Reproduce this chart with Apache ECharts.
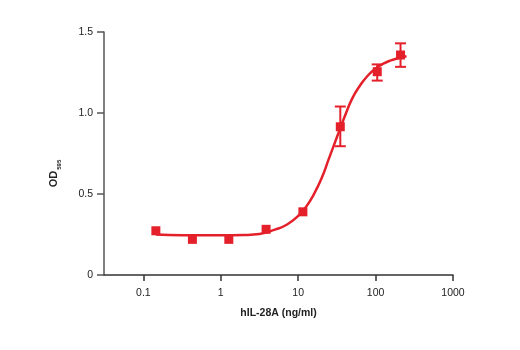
<!DOCTYPE html>
<html>
<head>
<meta charset="utf-8">
<script src="https://cdn.jsdelivr.net/npm/echarts@6/dist/echarts.min.js"></script>
<style>html,body{margin:0;padding:0;background:#fff;}#c{width:520px;height:350px;}</style>
</head>
<body>
<div id="c"></div>
<script>
// Measured points
const conc = [0.145, 0.43, 1.27, 3.85, 11.5, 35, 105, 210];
const od = [0.273, 0.22, 0.22, 0.282, 0.39, 0.915, 1.255, 1.358];
const errLow = [null, null, null, null, null, 0.795, 1.20, 1.285];
const errHigh = [null, null, null, null, null, 1.04, 1.30, 1.43];
// Fitted curve
const curveX = [0.145, 0.316, 1, 2, 3.16, 5, 7.1, 10, 12.6, 15.8, 20, 25, 31.6, 40, 50, 63, 79, 100, 126, 158, 200, 251];
const curveY = [0.25, 0.246, 0.245, 0.247, 0.253, 0.28, 0.31, 0.365, 0.42, 0.495, 0.595, 0.72, 0.85, 0.98, 1.09, 1.17, 1.23, 1.275, 1.305, 1.325, 1.34, 1.35];
const xTicks = [0.1, 1, 10, 100, 1000];
const yTicks = [0, 0.5, 1.0, 1.5];

const red = '#e4202a';
const chart = echarts.init(document.getElementById('c'), null, {renderer: 'canvas'});
chart.setOption({
  animation: false,
  backgroundColor: '#fff',
  grid: {left: 104, right: 67, top: 32, bottom: 75},
  xAxis: {
    type: 'log', logBase: 10, min: 0.031, max: 1000,
    name: 'hIL-28A (ng/ml)', nameLocation: 'middle', nameGap: 33,
    nameTextStyle: {fontFamily: 'Liberation Sans', fontWeight: 'bold', fontSize: 10.5, color: '#222'},
    axisLine: {lineStyle: {color: '#333', width: 1.5}},
    axisTick: {length: 6, lineStyle: {color: '#333', width: 1.5}, customValues: xTicks},
    axisLabel: {customValues: xTicks, margin: 13, fontFamily: 'Liberation Sans', fontSize: 10.5, color: '#222',
      formatter: v => String(v)},
    splitLine: {show: false}
  },
  yAxis: {
    type: 'value', min: 0, max: 1.5, interval: 0.5,
    name: '{a|OD}{b|595}', nameLocation: 'middle', nameGap: 42,
    nameTextStyle: {
      padding: [0, 40, 0, 0],
      rich: {
        a: {fontFamily: 'Liberation Sans', fontWeight: 'bold', fontSize: 11, color: '#222', lineHeight: 16, verticalAlign: 'middle'},
        b: {fontFamily: 'Liberation Sans', fontWeight: 'bold', fontSize: 6, color: '#222', lineHeight: 16, verticalAlign: 'bottom', padding: [6, 0, 0, 1]}
      }
    },
    axisLine: {show: true, lineStyle: {color: '#555', width: 1.5}},
    axisTick: {show: true, length: 7, lineStyle: {color: '#555', width: 1.5}},
    axisLabel: {margin: 11, fontFamily: 'Liberation Sans', fontSize: 10.5, color: '#222',
      formatter: v => v === 0 ? '0' : v.toFixed(1)},
    splitLine: {show: false}
  },
  series: [
    {
      type: 'line', data: curveX.map((x, i) => [x, curveY[i]]),
      smooth: 0.5, showSymbol: false, symbol: 'none',
      lineStyle: {color: red, width: 2.5}, z: 2
    },
    {
      type: 'custom',
      data: conc.map((x, i) => [x, errLow[i], errHigh[i]]).filter(d => d[1] != null),
      renderItem: function (params, api) {
        const lo = api.coord([api.value(0), api.value(1)]);
        const hi = api.coord([api.value(0), api.value(2)]);
        const w = 5.5;
        const st = {stroke: red, lineWidth: 2, fill: null};
        return {type: 'group', children: [
          {type: 'line', shape: {x1: hi[0], y1: hi[1], x2: lo[0], y2: lo[1]}, style: st},
          {type: 'line', shape: {x1: hi[0] - w, y1: hi[1], x2: hi[0] + w, y2: hi[1]}, style: st},
          {type: 'line', shape: {x1: lo[0] - w, y1: lo[1], x2: lo[0] + w, y2: lo[1]}, style: st}
        ]};
      },
      z: 3
    },
    {
      type: 'scatter', data: conc.map((x, i) => [x, od[i]]),
      symbol: 'rect', symbolSize: 9, itemStyle: {color: red, opacity: 1}, z: 4
    }
  ]
});
</script>
</body>
</html>
